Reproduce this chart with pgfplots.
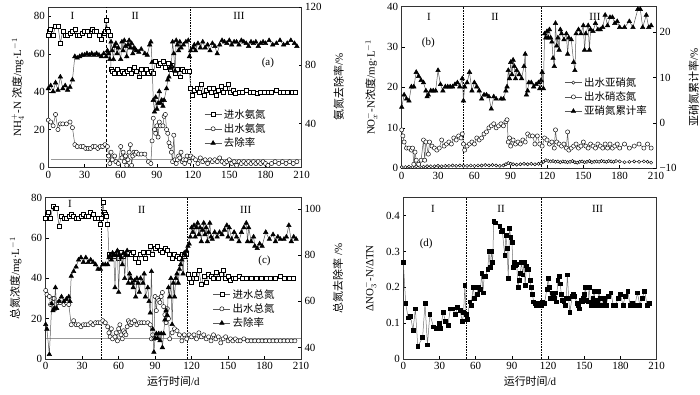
\documentclass[border=0pt]{standalone}
\usepackage{pgfplots}
\pgfplotsset{compat=1.18}
\usepackage{fontspec}
\setmainfont{Liberation Serif}
\newfontfamily\cjk{Noto Sans CJK SC}

\tikzset{
  myvline/.style={black, densely dotted, line width=0.6pt},
  myhline/.style={gray!80, line width=0.7pt},
}
\pgfplotsset{
  base/.style={scale only axis, xmin=0, xmax=210, xtick={0,30,...,210},
    tick align=inside, major tick length=3pt,
    /pgf/number format/assume math mode=true,
    tick label style={font=\fontsize{11}{13}\selectfont},
    label style={font=\fontsize{11}{13}\selectfont},
    clip=false, axis line style={line width=0.6pt, black!80},
    every tick/.style={black, line width=0.5pt}},
  leftax/.style={base, xtick pos=bottom, ytick pos=left, ylabel shift=3pt},
  rightax/.style={base, axis y line*=right, axis x line=none, ytick pos=right, ylabel shift=5pt},
  sq/.style={black!65, line width=0.5pt, mark=square*, mark size=2pt, mark options={fill=white, draw=black, line width=0.45pt, solid}},
  ci/.style={black!65, line width=0.5pt, mark=*, mark size=2.1pt, mark options={fill=white, draw=black, line width=0.45pt, solid}},
  cis/.style={black!65, line width=0.5pt, mark=*, mark size=1.6pt, mark options={fill=white, draw=black, line width=0.45pt, solid}},
  tri/.style={black!65, line width=0.5pt, mark=triangle*, mark size=2.6pt, mark options={fill=black, draw=black, solid}},
  dsq/.style={black!55, line width=0.5pt, mark=square*, mark size=1.9pt, mark options={fill=black, draw=black, solid}},
  leg/.style={legend style={draw=none, fill=none, inner sep=0pt, font=\cjk\fontsize{10.5}{12.5}\selectfont, cells={anchor=west}, row sep=0pt}},
}

\begin{document}
\begin{tikzpicture}
\useasboundingbox (0,0) rectangle (700bp,395bp);

% ================= (a) =================
\begin{axis}[leftax, at={(48.3bp,227.7bp)}, anchor=south west, width=253.4bp, height=160.4bp,
  ymin=0, ymax=85, ytick={0,20,...,80},
  ylabel={NH$_4^+$-N {\cjk 浓度}/mg·L$^{-1}$}]
\draw[myhline] (axis cs:2,4) -- (axis cs:210,4);
\draw[black, densely dashed, line width=0.6pt] (axis cs:47.8,0) -- (axis cs:47.8,85);
\draw[myvline] (axis cs:117.4,0) -- (axis cs:117.4,85);
\node[font=\fontsize{11}{13}\selectfont] at (axis cs:20,80) {I};
\node[font=\fontsize{11}{13}\selectfont] at (axis cs:72,80) {II};
\node[font=\fontsize{11}{13}\selectfont] at (axis cs:158,80) {III};
\node[font=\fontsize{11}{13}\selectfont] at (axis cs:182,55.5) {(a)};
\addplot[sq] coordinates {(0,70)(1,72)(2,73)(4,70)(6,75)(8,75)(10,66)(12,72)(14,70)(16,70)(18,71)(20,72)(22,73)(24,70)(26,70)(28,71)(30,72)(32,72)(34,70)(36,73)(38,72)(40,72)(42,70)(44,68)(46,71)(47,72)(48,78)(49,73)(50,72)(51,70)(52,52)(53,51)(55,50)(57,52)(59,50)(61,51)(63,50)(65,51)(67,52)(69,50)(71,53)(73,51)(75,48)(77,52)(79,50)(81,52)(83,50)(85,51)(87,50)(89,56)(91,54)(93,55)(95,56)(97,53)(99,55)(101,52)(103,54)(105,50)(107,52)(109,48)(111,52)(113,51)(115,51)(117,51)(118,42)(119,38)(121,41)(123,42)(125,40)(127,44)(129,38)(131,41)(133,42)(135,40)(137,42)(139,38)(141,41)(143,43)(145,40)(147,42)(149,44)(151,40)(153,41)(155,39)(158,40)(161,40)(164,41)(167,40)(170,40)(173,39)(176,40)(179,40)(182,40)(185,40)(189,41)(192,40)(195,40)(198,40)(202,40)(205,40)};
\addplot[ci] coordinates {(0,25)(2,24)(4,22)(6,28)(8,20)(10,23)(12,23)(15,23)(18,24)(20,21)(22,12)(24,11)(27,11)(29,11)(31,10)(33,10)(35,10)(37,11)(39,11)(41,10)(43,11)(45,11)(47,12)(49,11)(50,6)(51,2)(52,8)(53,4)(55,6)(56,3)(58,2)(60,11)(61,5)(62,8)(63,3)(64,6)(65,1)(66,4)(67,8)(68,12)(69,1)(70,6)(71,8)(72,7)(73,8)(75,7)(77,7)(80,7)(83,3)(85,2)(86,14)(87,26)(88,20)(89,18)(90,22)(91,16)(92,24)(93,22)(95,22)(96,27)(97,28)(98,20)(99,18)(100,13)(101,11)(102,8)(103,3)(104,17)(105,4)(106,2)(107,4)(108,6)(109,5)(110,8)(111,3)(112,4)(113,2)(114,4)(115,6)(117,3)(118,6)(120,5)(122,4)(124,2)(126,5)(128,3)(130,4)(132,2)(134,4)(136,3)(138,4)(140,3)(142,5)(144,3)(146,2)(148,3)(150,4)(152,2)(154,3)(156,1)(158,3)(160,2)(162,3)(164,2)(166,3)(168,2)(170,3)(172,2)(174,3)(176,2)(178,3)(180,2)(182,1)(185,2)(188,3)(191,2)(194,3)(197,2)(200,3)(203,2)(206,3)};
\end{axis}
\begin{axis}[rightax, at={(48.3bp,227.7bp)}, anchor=south west, width=253.4bp, height=160.4bp,
  ymin=10, ymax=120, ytick={40,80,120},
  ylabel={{\cjk 氨氮去除率}/\%}, leg, legend style={at={(0.615,0.375)}, anchor=north west}]
\addlegendimage{sq}\addlegendentry{进水氨氮}
\addlegendimage{ci}\addlegendentry{出水氨氮}
\addplot[tri] coordinates {(0,64)(2,66)(4,62)(6,68)(8,63)(10,72)(12,64)(14,66)(16,63)(18,65)(20,70)(22,86)(24,85)(26,86)(28,87)(30,87)(32,88)(34,87)(36,88)(38,87)(40,88)(42,87)(44,86)(46,88)(48,86)(49,90)(50,88)(51,84)(52,96)(53,90)(54,84)(55,93)(56,95)(57,88)(58,92)(60,84)(61,96)(62,90)(63,97)(64,93)(65,86)(66,94)(67,97)(68,92)(69,95)(70,88)(71,92)(72,91)(73,90)(75,89)(77,91)(80,88)(82,87)(84,94)(85,96)(86,82)(87,56)(88,48)(89,58)(90,50)(91,54)(92,62)(93,54)(94,56)(95,52)(96,56)(98,64)(99,70)(100,72)(101,78)(102,80)(103,96)(104,88)(105,76)(106,97)(107,94)(108,90)(109,96)(110,92)(112,94)(114,96)(116,97)(117,86)(118,90)(120,92)(121,94)(122,90)(124,95)(126,92)(128,96)(130,92)(132,94)(134,90)(136,95)(138,93)(140,88)(142,94)(144,97)(146,96)(148,95)(150,97)(152,94)(154,96)(156,96)(158,94)(160,97)(162,96)(164,95)(166,93)(168,96)(170,95)(172,96)(174,93)(176,95)(178,96)(180,95)(183,97)(186,94)(189,95)(192,97)(195,94)(198,95)(201,97)(204,95)(206,93)};
\addlegendentry{去除率}
\end{axis}

% ================= (b) =================
\begin{axis}[leftax, at={(401.7bp,226.7bp)}, anchor=south west, width=254.3bp, height=161.8bp,
  ymin=0, ymax=40, ytick={0,10,...,40},
  ylabel={NO$_x^-$-N{\cjk 浓度}/mg·L$^{-1}$}]
\draw[myvline] (axis cs:50.9,0) -- (axis cs:50.9,40);
\draw[myvline] (axis cs:115.6,0) -- (axis cs:115.6,40);
\node[font=\fontsize{11}{13}\selectfont] at (axis cs:22.5,37.4) {I};
\node[font=\fontsize{11}{13}\selectfont] at (axis cs:77,37.4) {II};
\node[font=\fontsize{11}{13}\selectfont] at (axis cs:159.6,37.4) {III};
\node[font=\fontsize{11}{13}\selectfont] at (axis cs:22,31) {(b)};
\addplot[cis] coordinates {(0,0.3)(3,0.3)(6,0.4)(9,0.3)(12,0.5)(15,0.4)(18,0.4)(21,0.5)(24,0.5)(27,0.5)(30,0.6)(33,0.5)(36,0.6)(39,0.6)(42,0.7)(45,0.6)(48,0.7)(51,0.6)(54,0.6)(57,0.7)(60,0.6)(63,0.7)(66,0.7)(69,0.8)(72,0.7)(75,0.8)(78,0.7)(81,0.6)(84,0.7)(86,1.0)(88,1.3)(90,1.1)(92,1.0)(95,0.9)(98,1.0)(101,1.1)(104,1.0)(107,1.1)(110,1.0)(113,1.1)(115,1.2)(117,1.6)(119,2.0)(121,1.8)(123,1.7)(125,1.8)(127,1.6)(129,1.7)(131,1.5)(133,1.7)(135,1.6)(137,1.5)(139,1.6)(141,1.8)(143,1.5)(145,1.4)(147,1.6)(149,1.7)(151,1.5)(153,1.6)(155,1.8)(157,1.5)(159,1.6)(161,1.7)(163,1.6)(165,1.8)(167,1.7)(169,1.6)(171,1.8)(173,1.7)(175,1.6)(177,1.8)(180,1.7)(184,1.5)(188,1.6)(192,1.7)(196,1.6)(200,1.7)(203,1.6)(206,1.4)};
\addplot[ci] coordinates {(0,9.5)(1,8)(2,6.5)(4,5)(6,5)(8,4.5)(9,5)(10,1)(11,4)(12,2)(14,1)(16,2)(18,7)(19,2)(20,6.5)(22,3.5)(23,6.5)(25,5.5)(27,5)(29,4.5)(31,5)(33,7)(35,5.5)(37,6)(39,6.5)(41,6)(43,7.5)(45,7)(47,8)(49,7.5)(50,8.5)(51,6)(52,4.5)(54,5.5)(56,6)(58,6.5)(60,6)(62,7.5)(64,7)(66,7.5)(68,8.5)(70,9)(72,10)(74,10.5)(76,11)(78,10)(80,10.5)(82,11)(84,10.5)(86,11.5)(87,12)(88,6.5)(89,7.5)(90,5.5)(92,7)(94,6)(96,6.5)(98,6)(100,7)(102,6.5)(104,8.5)(106,8)(108,8)(110,6)(112,8)(114,6)(116,5.5)(118,7.5)(120,7)(122,6)(124,6.5)(126,5)(127,9.5)(128,6.5)(130,6)(132,5.5)(134,6)(136,5)(137,9)(138,4.5)(140,5)(142,5.5)(144,6)(146,5)(148,5.5)(150,6.5)(152,5.5)(154,5)(156,6)(158,5.5)(160,5)(162,6)(164,5.5)(166,5)(168,6)(170,5)(172,6)(174,5)(176,5.5)(178,6)(180,5)(184,6)(188,5)(192,5.5)(196,6)(200,5)(203,6)(206,5)};
\end{axis}
\begin{axis}[rightax, at={(401.7bp,226.7bp)}, anchor=south west, width=254.3bp, height=161.8bp,
  ymin=-10, ymax=25.7, ytick={-10,0,10,20}, yticklabels={−10,0,10,20},
  ylabel={{\cjk 亚硝氮累计率}/\%}, leg, legend style={at={(0.64,0.575)}, anchor=north west}]
\addlegendimage{cis}\addlegendentry{出水亚硝氮}
\addlegendimage{ci}\addlegendentry{出水硝态氮}
\addplot[tri] coordinates {(0,3.5)(2,6.2)(4,5.3)(6,4.9)(8,8)(10,8)(12,11.2)(14,10.3)(16,9.4)(18,8.9)(20,7.1)(21,5.8)(22,6.2)(24,7.1)(26,7.1)(28,7.1)(30,11.6)(32,8.5)(34,7.1)(36,8)(38,8)(40,8)(42,8)(44,8.5)(46,8.9)(48,8)(50,9.8)(51,4.9)(52,8)(54,8.9)(56,11.2)(58,7.1)(60,8.9)(62,8)(64,7.1)(66,5.3)(68,6.2)(70,6.2)(72,5.8)(74,3.1)(76,5.8)(78,5.3)(82,5.3)(84,5.3)(86,7.1)(87,8)(88,11.6)(89,9.8)(90,13.4)(91,10.7)(92,13.9)(93,12.5)(94,9.8)(95,11.6)(97,10.7)(99,9.8)(101,12.5)(102,15.2)(103,6.2)(104,7.1)(105,8.9)(107,8.9)(109,8)(111,8.5)(113,8.9)(114,7.6)(115,9.4)(116,11.2)(117,7.6)(118,19.7)(119,18.8)(120,20.2)(121,18.8)(122,20.6)(123,18.8)(124,17.9)(125,14.3)(126,12.5)(127,22)(128,17)(129,18.8)(130,16.1)(131,20.6)(132,19.7)(134,18.4)(136,19.7)(137,15.2)(138,18.8)(140,18.4)(142,13.4)(143,11.6)(144,19.7)(146,20.6)(148,19.7)(150,21.5)(151,16.1)(152,19.7)(154,21.5)(155,16.1)(156,20.6)(158,20.2)(160,22)(162,20.6)(164,20.6)(166,21.1)(168,23.8)(170,21.5)(172,23.3)(174,23.3)(176,22)(178,22.4)(180,21.1)(184,21.1)(188,22.4)(191,21.1)(195,25.1)(197,25.1)(199,21.1)(202,23.8)(204,21.1)(206,21.5)};
\addlegendentry{亚硝氮累计率}
\end{axis}

% ================= (c) =================
\begin{axis}[leftax, at={(45.7bp,36bp)}, anchor=south west, width=255.3bp, height=161.3bp,
  ymin=0, ymax=80, ytick={0,20,...,80},
  ylabel={{\cjk 总氮浓度}/mg·L$^{-1}$}, xlabel={{\cjk 运行时间}/d}]
\draw[myhline] (axis cs:0,10) -- (axis cs:210,10);
\draw[myvline] (axis cs:46,0) -- (axis cs:46,80);
\draw[myvline] (axis cs:116.5,0) -- (axis cs:116.5,80);
\node[font=\fontsize{11}{13}\selectfont] at (axis cs:20,76.9) {I};
\node[font=\fontsize{11}{13}\selectfont] at (axis cs:79,74) {II};
\node[font=\fontsize{11}{13}\selectfont] at (axis cs:164.5,74) {III};
\node[font=\fontsize{11}{13}\selectfont] at (axis cs:180,48.5) {(c)};
\addplot[sq] coordinates {(0,70)(1,72)(2,73)(4,70)(6,76)(8,75)(9,75)(11,66)(13,71)(15,70)(17,70)(19,71)(21,72)(23,71)(25,70)(27,70)(29,71)(31,72)(33,71)(35,71)(37,73)(39,72)(41,70)(43,70)(45,67)(46,70)(47,78)(48,73)(49,72)(50,71)(51,67)(52,52)(54,52)(56,51)(58,52)(60,50)(62,53)(64,51)(66,52)(68,53)(70,52)(72,53)(74,50)(76,48)(78,52)(80,53)(82,50)(84,53)(86,56)(88,52)(90,55)(92,56)(94,54)(96,53)(98,55)(100,54)(102,52)(104,50)(106,52)(108,51)(110,50)(112,52)(114,51)(116,52)(117,42)(118,40)(120,38)(122,42)(124,40)(126,44)(128,37)(130,41)(132,38)(134,42)(136,41)(138,40)(140,43)(142,40)(144,42)(146,44)(148,40)(150,41)(152,39)(154,40)(156,40)(159,41)(162,40)(165,40)(169,40)(173,40)(177,40)(181,40)(185,40)(189,40)(193,41)(196,40)(200,40)(204,40)};
\addplot[ci] coordinates {(0,34)(1,32)(3,31)(4,27)(6,30)(7,30)(8,25)(10,28)(12,28)(15,27)(17,28)(19,27)(21,17)(23,19)(25,17)(27,17)(29,16)(31,17)(33,17)(35,17)(37,18)(39,17)(41,18)(43,18)(45,18)(47,19)(49,18)(51,16)(52,13)(53,11)(54,15)(55,10)(57,11)(58,13)(59,9)(60,15)(61,17)(62,12)(63,10)(64,14)(65,13)(66,12)(67,16)(68,19)(69,18)(70,17)(71,18)(73,19)(75,17)(77,18)(79,18)(81,18)(84,18)(86,17)(87,10)(88,12)(89,10)(90,31)(91,24)(92,30)(93,29)(94,28)(95,31)(96,33)(97,26)(98,22)(99,18)(100,25)(101,20)(102,10)(104,13)(106,15)(108,14)(110,12)(112,9)(114,12)(116,10)(118,12)(120,11)(122,12)(124,10)(126,13)(128,11)(130,12)(132,10)(134,11)(136,9)(138,12)(140,10)(142,11)(144,8)(146,10)(148,11)(150,9)(152,10)(154,9)(156,10)(158,9)(160,9)(163,10)(166,9)(169,9)(172,9)(175,9)(178,9)(181,9)(184,9)(187,9)(190,9)(193,9)(196,9)(199,9)(202,9)(205,9)};
\end{axis}
\begin{axis}[rightax, at={(45.7bp,36bp)}, anchor=south west, width=255.3bp, height=161.3bp,
  ymin=35, ymax=105, ytick={40,60,80,100},
  ylabel={{\cjk 总氮去除率} /\%}, leg, legend style={at={(0.655,0.445)}, anchor=north west}]
\addlegendimage{sq}\addlegendentry{进水总氮}
\addlegendimage{ci}\addlegendentry{出水总氮}
\addplot[tri] coordinates {(0,50)(1,48)(3,37)(5,59)(6,56)(7,57)(8,66)(9,57)(11,60)(13,62)(15,60)(17,61)(19,62)(20,60)(21,71)(23,73)(25,75)(27,78)(29,79)(31,77)(33,79)(35,77)(37,78)(39,77)(41,76)(43,74)(45,74)(47,76)(49,76)(51,76)(52,79)(53,80)(54,78)(55,81)(56,80)(57,66)(58,80)(59,82)(60,64)(61,80)(62,79)(63,76)(64,81)(65,70)(66,80)(67,82)(68,68)(69,72)(70,70)(71,68)(72,66)(73,69)(74,62)(75,70)(76,68)(77,64)(78,70)(80,68)(81,72)(82,62)(84,66)(85,60)(86,55)(87,73)(88,48)(89,38)(90,44)(91,46)(92,44)(93,46)(94,43)(95,46)(96,40)(97,46)(98,52)(99,56)(100,54)(101,66)(102,62)(103,70)(104,50)(105,68)(106,62)(107,70)(108,72)(109,68)(110,74)(111,76)(112,78)(113,72)(114,81)(115,80)(116,82)(117,84)(118,85)(119,88)(120,92)(121,90)(122,93)(123,88)(124,92)(125,94)(126,89)(127,92)(128,86)(129,91)(130,94)(131,89)(132,92)(133,86)(134,90)(135,94)(136,88)(137,87)(139,90)(141,88)(143,90)(145,89)(147,91)(149,93)(150,88)(151,92)(153,87)(155,90)(157,88)(159,86)(161,90)(163,92)(165,94)(166,86)(167,92)(169,86)(171,88)(172,84)(174,83)(176,85)(178,84)(181,90)(184,87)(187,89)(189,86)(191,88)(193,87)(196,87)(198,88)(200,93)(202,86)(204,88)(206,87)};
\addlegendentry{去除率}
\end{axis}

% ================= (d) =================
\begin{axis}[leftax, at={(403.3bp,36bp)}, anchor=south west, width=253.4bp, height=161.3bp,
  ymin=0, ymax=0.45, ytick={0,0.1,0.2,0.3,0.4}, yticklabels={0,0.1,0.2,0.3,0.4},
  ylabel={ΔNO$_3^-$-N/ΔTN}, xlabel={{\cjk 运行时间}/d}]
\draw[myvline] (axis cs:52.4,0) -- (axis cs:52.4,0.45);
\draw[myvline] (axis cs:114.3,0) -- (axis cs:114.3,0.45);
\node[font=\fontsize{11}{13}\selectfont] at (axis cs:24.5,0.418) {I};
\node[font=\fontsize{11}{13}\selectfont] at (axis cs:81,0.418) {II};
\node[font=\fontsize{11}{13}\selectfont] at (axis cs:161,0.418) {III};
\node[font=\fontsize{11}{13}\selectfont] at (axis cs:19,0.32) {(d)};
\addplot[dsq] coordinates {(0,0.27)(2,0.155)(4,0.115)(6,0.12)(8,0.08)(10,0.14)(12,0.035)(16,0.06)(18,0.155)(20,0.04)(22,0.125)(25,0.09)(27,0.085)(29,0.085)(30,0.1)(31,0.085)(33,0.13)(35,0.105)(37,0.095)(39,0.14)(41,0.14)(43,0.125)(45,0.145)(47,0.135)(49,0.105)(50,0.13)(51,0.205)(52,0.125)(53,0.11)(55,0.16)(56,0.15)(58,0.2)(59,0.17)(61,0.18)(62,0.2)(64,0.195)(65,0.24)(66,0.185)(67,0.23)(68,0.23)(70,0.25)(71,0.3)(72,0.255)(73,0.3)(74,0.27)(75,0.385)(76,0.38)(80,0.37)(81,0.355)(82,0.36)(84,0.29)(85,0.345)(86,0.31)(87,0.225)(88,0.365)(89,0.34)(90,0.325)(91,0.255)(92,0.27)(93,0.26)(94,0.265)(95,0.2)(96,0.22)(97,0.24)(98,0.27)(99,0.235)(100,0.27)(101,0.205)(102,0.26)(103,0.25)(104,0.25)(105,0.22)(106,0.2)(107,0.18)(108,0.16)(109,0.155)(110,0.15)(111,0.155)(112,0.155)(113,0.155)(114,0.15)(115,0.16)(117,0.155)(119,0.195)(120,0.225)(121,0.2)(122,0.17)(123,0.185)(124,0.18)(125,0.17)(126,0.185)(127,0.16)(128,0.22)(129,0.23)(130,0.21)(131,0.18)(132,0.165)(133,0.16)(134,0.15)(135,0.17)(136,0.235)(137,0.17)(138,0.13)(140,0.175)(141,0.18)(142,0.175)(144,0.155)(145,0.15)(146,0.14)(147,0.165)(148,0.16)(149,0.17)(150,0.18)(151,0.2)(152,0.165)(153,0.16)(154,0.2)(155,0.16)(156,0.15)(157,0.17)(158,0.19)(159,0.165)(160,0.15)(161,0.16)(162,0.19)(163,0.17)(164,0.15)(166,0.17)(167,0.165)(168,0.15)(170,0.175)(172,0.185)(174,0.15)(176,0.15)(178,0.17)(180,0.18)(182,0.15)(184,0.175)(186,0.19)(188,0.15)(190,0.155)(192,0.15)(194,0.185)(196,0.15)(198,0.17)(200,0.19)(202,0.15)(204,0.155)};
\end{axis}
\end{tikzpicture}
\end{document}
